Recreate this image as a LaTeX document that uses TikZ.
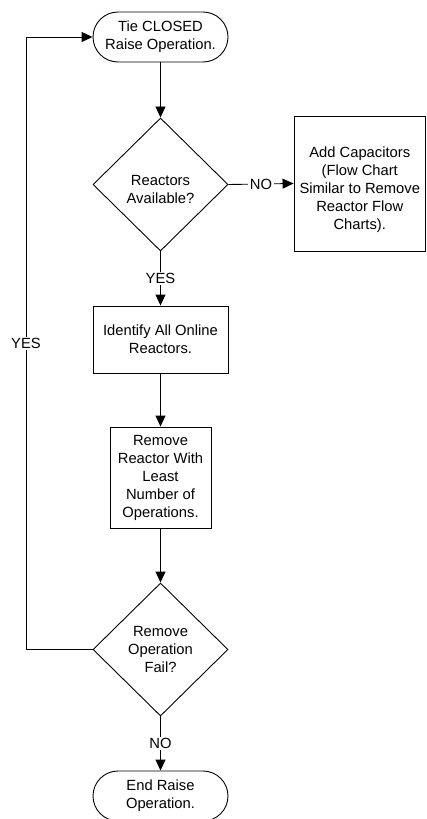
\documentclass[tikz,border=0pt]{standalone}
\usepackage{fontspec}
\setmainfont{Liberation Sans}
\usetikzlibrary{shapes.geometric,arrows.meta}
\begin{document}
\begin{tikzpicture}[x=1pt,y=-1pt,
  every node/.style={font=\fontsize{14.75}{18}\selectfont, align=center},
  ln/.style={line width=0.9pt, draw=black},
  arr/.style={ln, -{Triangle[length=11pt,width=10pt]}},
  term/.style={ln, rectangle, rounded corners=25pt, minimum width=135pt, minimum height=50pt, inner sep=0pt},
  proc/.style={ln, rectangle, inner sep=0pt},
  dec/.style={ln, diamond, minimum width=135pt, minimum height=133pt, inner sep=0pt},
  lab/.style={fill=white, inner sep=1.5pt}]
\useasboundingbox (0,0) rectangle (426,819);
\node[term] (start) at (160.5,37) {Tie CLOSED\\Raise Operation.};
\node[dec] (d1) at (160.5,184.5) {};
\node (d1t) at (160.5,189) {Reactors\\Available?};
\node[proc, minimum width=131.5pt, minimum height=135pt] (cap) at (359.75,183.5) {};
\node (capt) at (359.75,189.5) {Add Capacitors\\(Flow Chart\\Similar to Remove\\Reactor Flow\\Charts).};
\node[proc, minimum width=135pt, minimum height=67pt] (ident) at (160.5,339.5) {Identify All Online\\Reactors.};
\node[proc, minimum width=101pt, minimum height=101pt] (remove) at (160.5,477.5) {Remove\\Reactor With\\Least\\Number of\\Operations.};
\node[dec] (d2) at (160.5,649.5) {Remove\\Operation\\Fail?};
\node[term] (end) at (160.5,796) {End Raise\\Operation.};
\coordinate (lb) at (26,649.5);
\coordinate (lt) at (26,37);
\draw[arr] (start) -- (d1);
\draw[arr] (d1.east) -- node[lab]{NO} (cap.west);
\draw[arr] (d1.south) -- node[lab]{YES} (ident.north);
\draw[arr] (ident) -- (remove);
\draw[arr] (remove) -- (d2);
\draw[arr] (d2.south) -- node[lab]{NO} (end.north);
\draw[arr] (d2.west) -- (lb) -- node[lab]{YES} (lt) -- (start.west);
\end{tikzpicture}
\end{document}
